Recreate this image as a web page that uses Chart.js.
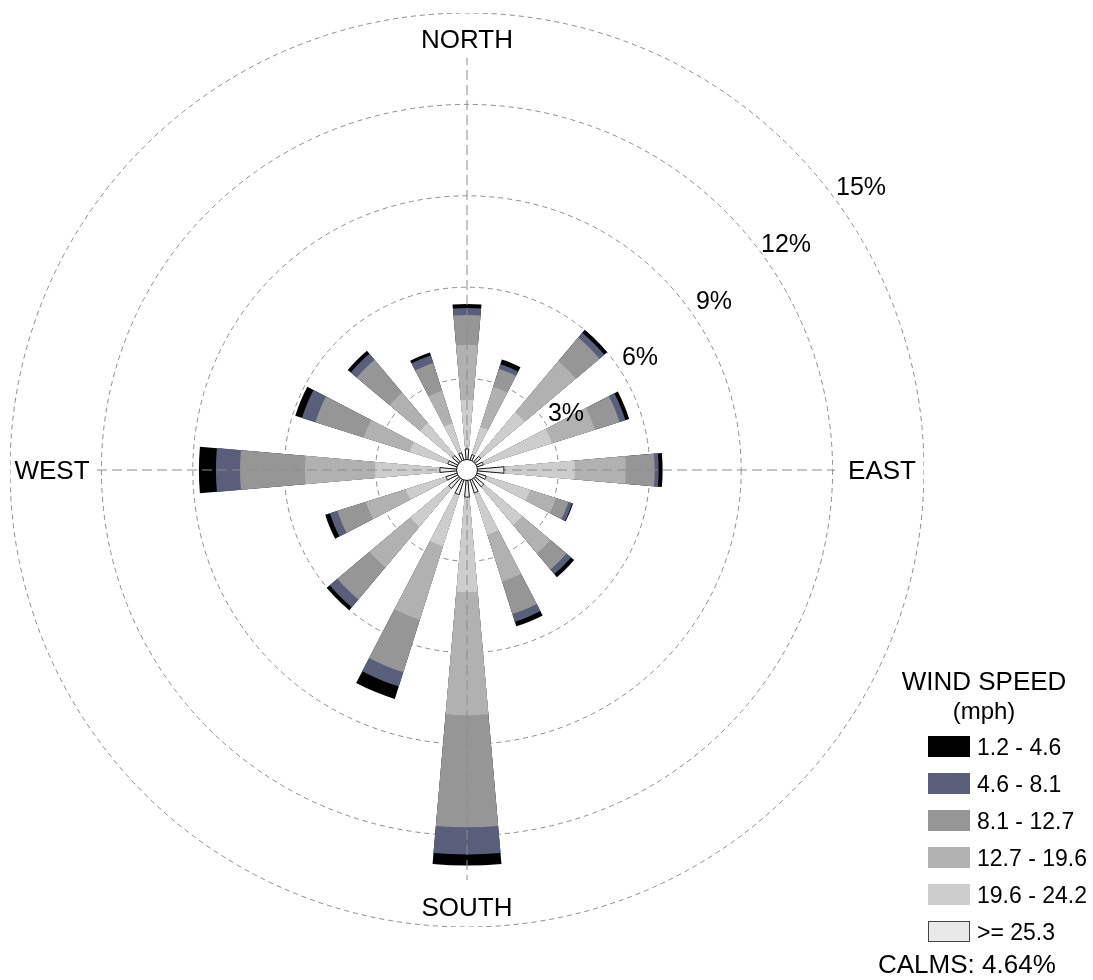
<!DOCTYPE html>
<html>
<head>
<meta charset="utf-8">
<script src="https://cdn.jsdelivr.net/npm/chart.js@4.4.1/dist/chart.umd.min.js"></script>
<style>
  body { margin: 0; background: #fff; }
  #wrap { position: relative; width: 1093px; height: 980px; overflow: hidden; font-family: "Liberation Sans", Arial, sans-serif; color: #000; }
  #c { position: absolute; left: 10px; top: 13px; }
  .lbl { position: absolute; transform: translate(-50%, -50%); white-space: nowrap; font-size: 26px; }
  .pct { font-size: 25px; }
  .leg { position: absolute; white-space: nowrap; }
  .box { position: absolute; width: 42px; height: 21px; box-sizing: border-box; }
  .ltxt { position: absolute; font-size: 23px; transform: translateY(-50%); }
</style>
</head>
<body>
<div id="wrap">
  <canvas id="c" width="914" height="914"></canvas>

  <div class="lbl" style="left:467px;top:39px">NORTH</div>
  <div class="lbl" style="left:52px;top:470px">WEST</div>
  <div class="lbl" style="left:882px;top:470px">EAST</div>
  <div class="lbl" style="left:467px;top:907px">SOUTH</div>

  <div class="lbl pct" style="left:566px;top:412px">3%</div>
  <div class="lbl pct" style="left:640px;top:356px">6%</div>
  <div class="lbl pct" style="left:714px;top:300px">9%</div>
  <div class="lbl pct" style="left:786px;top:243px">12%</div>
  <div class="lbl pct" style="left:861px;top:186px">15%</div>

  <div id="legend"></div>
</div>

<script>
// wind directions, clockwise from north
const directions = ["N", "NNE", "NE", "ENE", "E", "ESE", "SE", "SSE", "S", "SSW", "SW", "WSW", "W", "WNW", "NW", "NNW"]

// frequency (%) for each speed class, per direction
const over253  = [0.69, 0.53, 0.59, 0.56, 1.21, 0.66, 0.72, 0.79, 0.89, 0.85, 0.79, 0.72, 0.89, 0.66, 0.62, 0.59]
const s196_242 = [1.61, 0.95, 1.87, 2.36, 2.33, 1.51, 1.64, 1.44, 3.12, 1.77, 1.64, 1.38, 2.13, 1.31, 1.38, 1.02]
const s127_196 = [1.81, 1.38, 2.20, 1.48, 1.67, 0.89, 1.21, 1.61, 4.04, 2.53, 1.74, 1.38, 2.30, 1.58, 1.31, 1.12]
const s81_127  = [0.98, 0.62, 1.02, 0.85, 0.95, 0.43, 0.69, 1.12, 3.68, 1.81, 1.38, 0.98, 2.13, 1.67, 1.41, 0.95]
const s46_81   = [0.23, 0.16, 0.20, 0.20, 0.13, 0.13, 0.20, 0.26, 0.89, 0.49, 0.33, 0.26, 0.79, 0.46, 0.26, 0.26]
const s12_46   = [0.13, 0.16, 0.13, 0.13, 0.13, 0.03, 0.13, 0.16, 0.36, 0.43, 0.13, 0.16, 0.56, 0.23, 0.13, 0.10]

const calms = 4.64
const ringTicks = [3, 6, 9, 12, 15]

// legend, innermost class last
const classLabels = ["1.2 - 4.6", "4.6 - 8.1", "8.1 - 12.7", "12.7 - 19.6", "19.6 - 24.2", ">= 25.3"]
const classColors = ["#000000", "#595f7a", "#969696", "#b1b1b1", "#cdcdcd", "#e9e9e9"]

// stacking order from the centre outwards
const stack = [over253, s196_242, s127_196, s81_127, s46_81, s12_46]
const stackColors = ["#e9e9e9", "#cdcdcd", "#b1b1b1", "#969696", "#595f7a", "#000000"]

const barAngle = 10
const gapAngle = 360 / directions.length - barAngle

// polar area wants one slice per entry, so put an empty slice between bars
const labels = []
directions.forEach(d => { labels.push(d); labels.push("") })

const running = directions.map(() => 0)
const datasets = stack.map((values, k) => {
    const data = []
    values.forEach((v, i) => {
        running[i] += v
        data.push(+running[i].toFixed(2))
        data.push(0)
    })
    return {
        label: classLabels[5 - k],
        data: data,
        backgroundColor: stackColors[k],
        borderColor: "#1a1a1a",
        borderWidth: ctx => (k === 0 && ctx.dataIndex % 2 === 0) ? 1 : 0,
        angle: ctx => ctx.dataIndex % 2 === 0 ? barAngle : gapAngle
    }
})

const compassLines = {
    id: "compassLines",
    beforeDatasetDraw(chart, args) {
        if (args.index !== 0) return
        const r = chart.scales.r
        const ctx = chart.ctx
        const cx = r.xCenter, cy = r.yCenter
        ctx.save()
        ctx.strokeStyle = "#8c8c8c"
        ctx.lineWidth = 1
        ctx.setLineDash([10, 5])
        ctx.beginPath()
        ctx.moveTo(cx, cy); ctx.lineTo(cx, cy - 412)
        ctx.moveTo(cx, cy); ctx.lineTo(cx, cy + 410)
        ctx.moveTo(cx, cy); ctx.lineTo(cx + 368, cy)
        ctx.moveTo(cx, cy); ctx.lineTo(cx - 372, cy)
        ctx.stroke()
        ctx.restore()
    },
    afterDatasetsDraw(chart) {
        const r = chart.scales.r
        const ctx = chart.ctx
        ctx.save()
        ctx.beginPath()
        ctx.arc(r.xCenter, r.yCenter, 10.5, 0, Math.PI * 2)
        ctx.fillStyle = "#fff"
        ctx.fill()
        ctx.strokeStyle = "#111"
        ctx.lineWidth = 1
        ctx.stroke()
        ctx.restore()
    }
}

const ctx = document.getElementById("c").getContext("2d")
const chart = new Chart(ctx, {
    type: "polarArea",
    data: { labels: labels, datasets: datasets },
    options: {
        responsive: false,
        animation: false,
        layout: { padding: 0 },
        plugins: { legend: { display: false }, tooltip: { enabled: false } },
        scales: {
            r: {
                min: 0,
                max: ringTicks[ringTicks.length - 1],
                startAngle: -barAngle / 2,
                ticks: { display: false, stepSize: 3 },
                grid: { color: "#8c8c8c", lineWidth: 1, circular: true },
                border: { dash: [5, 4] },
                angleLines: { display: false },
                pointLabels: { display: false }
            }
        }
    },
    plugins: [compassLines]
})

// legend block
const legend = document.getElementById("legend")
let html = '<div class="leg" style="left:984px;top:681px;transform:translate(-50%,-50%);font-size:26px">WIND SPEED</div>'
html += '<div class="leg" style="left:984px;top:711px;transform:translate(-50%,-50%);font-size:24px">(mph)</div>'
classLabels.forEach((lab, i) => {
    const y = 736 + i * 36.9
    const border = i === 5 ? "1px solid #444" : "1px solid " + classColors[i]
    html += `<div class="box" style="left:928px;top:${y}px;background:${classColors[i]};border:${border}"></div>`
    html += `<div class="ltxt" style="left:977px;top:${y + 11}px">${lab}</div>`
})
html += `<div class="leg" style="left:878px;top:964px;transform:translateY(-50%);font-size:26px">CALMS: ${calms.toFixed(2)}%</div>`
legend.innerHTML = html
</script>
</body>
</html>
